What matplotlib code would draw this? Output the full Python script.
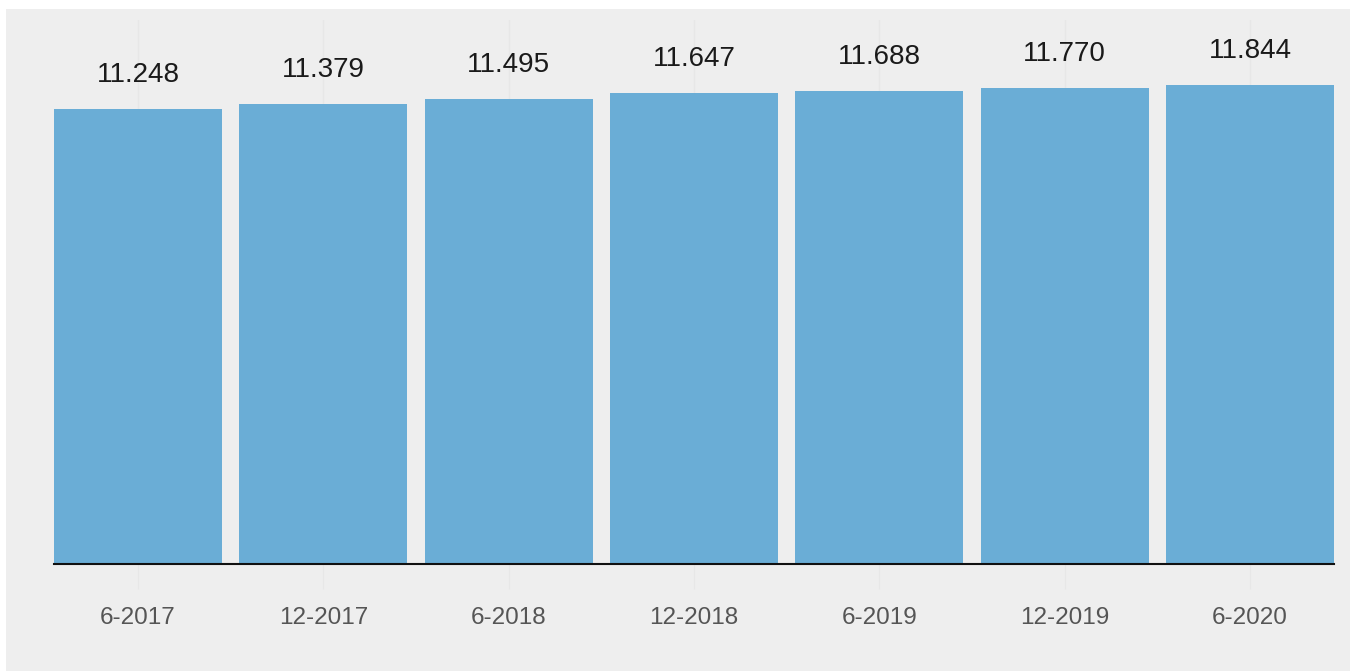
import matplotlib
matplotlib.use("Agg")
import matplotlib.pyplot as plt
from matplotlib.patches import Rectangle

# data
periods = ['6-2017', '12-2017', '6-2018', '12-2018', '6-2019', '12-2019', '6-2020']
values = [11.248, 11.379, 11.495, 11.647, 11.688, 11.770, 11.844]
value_labels = ['11.248', '11.379', '11.495', '11.647', '11.688', '11.770', '11.844']

BG = '#eeeeee'
BAR = '#6aadd6'
W, H = 1350, 671

plt.rcParams['font.family'] = ['Liberation Sans', 'DejaVu Sans']

fig = plt.figure(figsize=(W / 100, H / 100), dpi=100)
fig.patch.set_facecolor('white')
# grey panel (small white strip left and top)
panel = Rectangle((6 / W, 0), 1 - 6 / W, 1 - 9 / H, transform=fig.transFigure,
                  facecolor=BG, edgecolor='none', zorder=-10)
fig.add_artist(panel)

ax = fig.add_axes([54 / W, (H - 564) / H, (1334 - 54) / W, (564 - 20) / H])
ax.set_facecolor(BG)

x = range(len(periods))
ax.bar(x, values, width=0.905, color=BAR, zorder=2)
for i, lab in enumerate(value_labels):
    ax.annotate(lab, (i, values[i]), xytext=(0, 15), textcoords='offset points',
                ha='center', va='bottom', fontsize=20, color='#1a1a1a')

ax.set_xlim(-0.4525, len(periods) - 1 + 0.4525)
ax.set_ylim(0, 13.45)
ax.set_xticks(list(x))
ax.set_xticklabels(periods, fontsize=17.5, color='#555555')
ax.set_yticks([])
ax.tick_params(axis='x', length=18, color='#e7e7e7', pad=13)
ax.grid(axis='x', color='#e7e7e7', linewidth=1, zorder=0)
for s in ['top', 'left', 'right']:
    ax.spines[s].set_visible(False)
ax.spines['bottom'].set_color('#111111')
ax.spines['bottom'].set_linewidth(1.5)
ax.spines['bottom'].set_zorder(3)

fig.savefig('out.png', dpi=100, facecolor=fig.get_facecolor())
